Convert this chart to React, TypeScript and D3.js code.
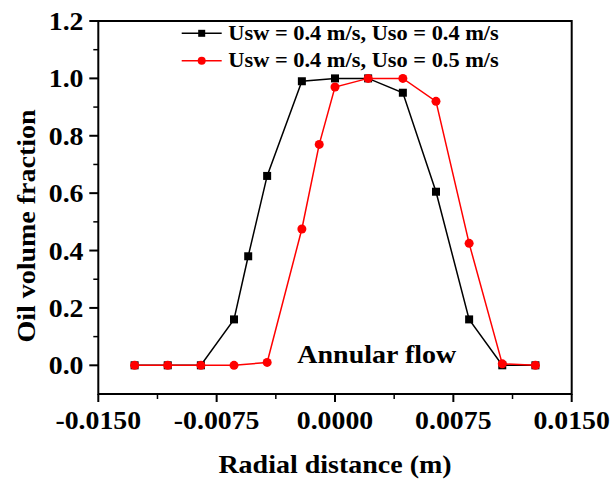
import React from "react";
import * as d3 from "d3";

const blackX = [-0.0127, -0.0106, -0.0085, -0.0064, -0.0055, -0.0043, -0.0021, 0, 0.0021, 0.0043, 0.0064, 0.0085, 0.0106, 0.0127];
const blackY = [0, 0, 0, 0.16, 0.38, 0.66, 0.99, 1.0, 1.0, 0.95, 0.605, 0.16, 0, 0];
const redX = [-0.0127, -0.0106, -0.0085, -0.0064, -0.0043, -0.0021, -0.001, 0, 0.0021, 0.0043, 0.0064, 0.0085, 0.0106, 0.0127];
const redY = [0, 0, 0, 0, 0.01, 0.475, 0.77, 0.97, 1.0, 1.0, 0.92, 0.425, 0.005, 0];
const xTicks = [-0.015, -0.0075, 0, 0.0075, 0.015];
const xMinor = [-0.01125, -0.00375, 0.00375, 0.01125];
const yTicks = [0, 0.2, 0.4, 0.6, 0.8, 1.0, 1.2];
const yMinor = [0.1, 0.3, 0.5, 0.7, 0.9, 1.1];
const legendLabels = ["Usw = 0.4 m/s, Uso = 0.4 m/s", "Usw = 0.4 m/s, Uso = 0.5 m/s"];
const xTitle = "Radial distance (m)";
const yTitle = "Oil volume fraction";
const note = "Annular flow";

const W = 612, H = 480;
const L = 98.3, R = 571.7, T = 21, B = 394;
const FONT = "'Liberation Serif', 'Times New Roman', serif";
const SX = 1.12;

export default function App() {
  const x = d3.scaleLinear().domain([-0.015, 0.015]).range([L, R]);
  const y = d3.scaleLinear().domain([-0.1, 1.2]).range([B, T]);
  const line = d3.line<[number, number]>().x(d => x(d[0])).y(d => y(d[1]));
  const black: [number, number][] = blackX.map((v, i) => [v, blackY[i]]);
  const red: [number, number][] = redX.map((v, i) => [v, redY[i]]);

  const txt = (s: string, tx: number, ty: number, size: number, anchor: string, rot = 0, sx = SX) => (
    <text transform={`translate(${tx},${ty}) rotate(${rot}) scale(${sx},1)`} textAnchor={anchor}
      fontFamily={FONT} fontWeight="bold" fontSize={size} fill="#000">{s}</text>
  );
  const fx = (t: number) => d3.format(".4f")(t).replace("\u2212", "-");

  return (
    <svg width={W} height={H} style={{ position: "absolute", left: 0, top: 0, background: "#fff" }}>
      <rect x={0} y={0} width={W} height={H} fill="#fff" />
      <rect x={L} y={T} width={R - L} height={B - T} fill="none" stroke="#000" strokeWidth={2} />
      {xTicks.map((t, i) => (
        <g key={"xt" + i}>
          <line x1={x(t)} x2={x(t)} y1={B} y2={B + 8} stroke="#000" strokeWidth={2} />
          {txt(fx(t), x(t), 428.5, 26, "middle", 0, 1.07)}
        </g>
      ))}
      {xMinor.map((t, i) => (
        <line key={"xm" + i} x1={x(t)} x2={x(t)} y1={B} y2={B + 5} stroke="#000" strokeWidth={1.5} />
      ))}
      {yTicks.map((t, i) => (
        <g key={"yt" + i}>
          <line x1={L - 9} x2={L} y1={y(t)} y2={y(t)} stroke="#000" strokeWidth={2} />
          {txt(d3.format(".1f")(t), 83.5, y(t) + 9, 26, "end", 0, 1.07)}
        </g>
      ))}
      {yMinor.map((t, i) => (
        <line key={"ym" + i} x1={L - 5} x2={L} y1={y(t)} y2={y(t)} stroke="#000" strokeWidth={1.5} />
      ))}
      <path d={line(black) || ""} fill="none" stroke="#000" strokeWidth={1.5} />
      {black.map((d, i) => (
        <rect key={"b" + i} x={x(d[0]) - 4} y={y(d[1]) - 4} width={8} height={8} fill="#000" />
      ))}
      <path d={line(red) || ""} fill="none" stroke="#ff0000" strokeWidth={1.5} />
      {red.map((d, i) => (
        <circle key={"r" + i} cx={x(d[0])} cy={y(d[1])} r={4.5} fill="#ff0000" />
      ))}
      <line x1={181.7} x2={221.7} y1={33.3} y2={33.3} stroke="#000" strokeWidth={1.5} />
      <rect x={201.7 - 3.5} y={33.3 - 3.5} width={7} height={7} fill="#000" />
      {txt(legendLabels[0], 228.3, 40, 20, "start")}
      <line x1={181.7} x2={221.7} y1={60.7} y2={60.7} stroke="#ff0000" strokeWidth={1.5} />
      <circle cx={201.7} cy={60.7} r={4} fill="#ff0000" />
      {txt(legendLabels[1], 228.3, 67.4, 20, "start")}
      {txt(note, 297.3, 363.3, 25, "start")}
      {txt(xTitle, (L + R) / 2, 473, 25, "middle")}
      {txt(yTitle, 35, 226, 25, "middle", -90)}
    </svg>
  );
}
